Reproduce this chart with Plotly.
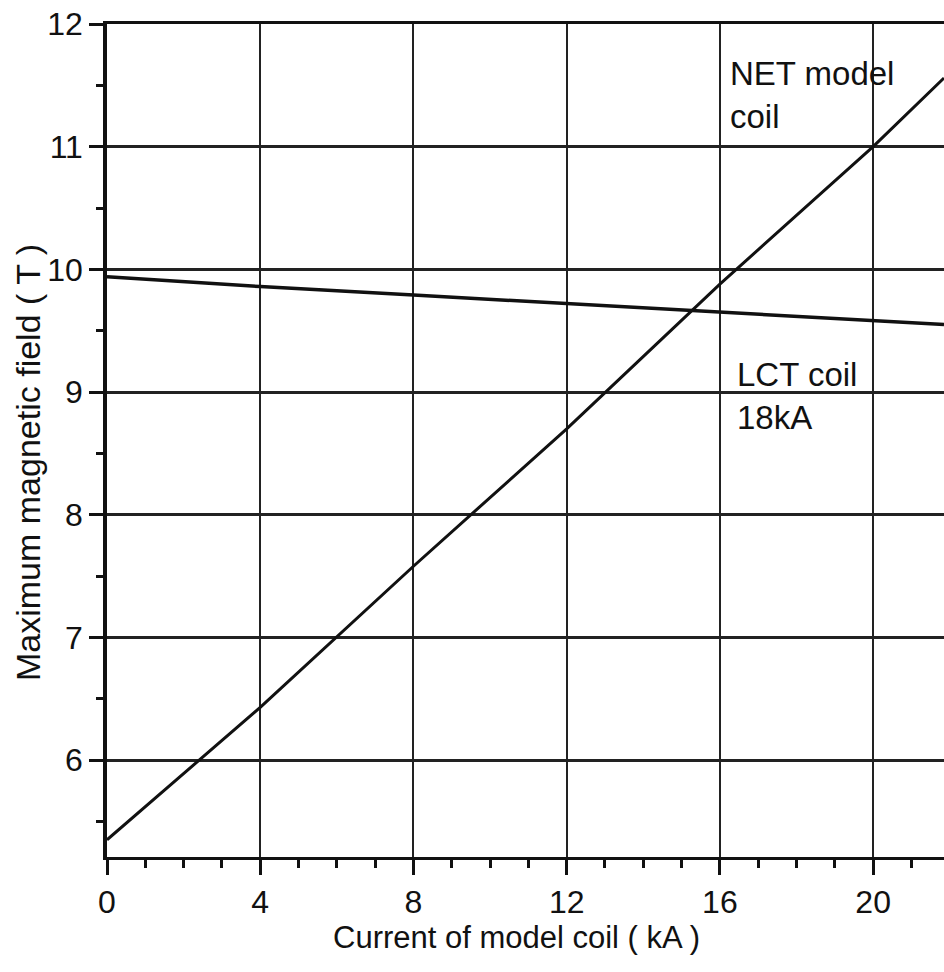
import plotly.graph_objects as go

# Data
current_kA = [0, 4, 8, 12, 16, 20, 21.85]
net_model_coil_T = [5.35, 6.43, 7.58, 8.70, 9.88, 11.0, 11.56]
lct_coil_T = [9.94, 9.86, 9.79, 9.72, 9.65, 9.58, 9.55]

x_ticks = [0, 4, 8, 12, 16, 20]
y_ticks = [6, 7, 8, 9, 10, 11, 12]

FONT = "Liberation Sans, Arial, sans-serif"
INK = "#111111"

fig = go.Figure()
fig.add_trace(go.Scatter(x=current_kA, y=net_model_coil_T, mode="lines",
                         line=dict(color=INK, width=3), name="NET model coil",
                         showlegend=False))
fig.add_trace(go.Scatter(x=current_kA, y=lct_coil_T, mode="lines",
                         line=dict(color=INK, width=3.5), name="LCT coil 18kA",
                         showlegend=False))

fig.update_layout(
    width=944, height=972,
    margin=dict(l=107, r=0, t=24, b=115),
    paper_bgcolor="white", plot_bgcolor="white",
    font=dict(family=FONT, color=INK),
    xaxis=dict(range=[0, 21.85], tickvals=x_ticks, showgrid=True,
               gridcolor="#222222", gridwidth=2, zeroline=False,
               showline=True, linecolor=INK, linewidth=3, mirror=True,
               ticks="outside", ticklen=15, tickwidth=3, tickcolor=INK,
               tickfont=dict(size=32, family=FONT, color=INK),
               ticklabelstandoff=0,
               minor=dict(ticks="outside", dtick=1, tick0=0, ticklen=8,
                          tickwidth=3, tickcolor=INK, showgrid=False)),
    yaxis=dict(range=[5.21, 12], tickvals=y_ticks, showgrid=True,
               gridcolor="#222222", gridwidth=2.5, zeroline=False,
               showline=True, linecolor=INK, linewidth=3.5,
               ticks="outside", ticklen=14, tickwidth=2.5, tickcolor=INK,
               tickfont=dict(size=32, family=FONT, color=INK),
               ticklabelstandoff=0,
               minor=dict(ticks="outside", dtick=0.5, tick0=0, ticklen=7,
                          tickwidth=2.5, tickcolor=INK, showgrid=False)),
    annotations=[
        dict(text="Current of model coil ( kA )", xref="paper", yref="paper",
             x=(516 - 107) / (944 - 107), y=-(937 - 857) / (857 - 24),
             xanchor="center", yanchor="middle", showarrow=False,
             font=dict(size=31, family=FONT, color=INK)),
        dict(text="Maximum magnetic field ( T )", xref="paper", yref="paper",
             x=-(107 - 28) / (944 - 107), y=(857 - 463) / (857 - 24),
             xanchor="center", yanchor="middle", textangle=-90, showarrow=False,
             font=dict(size=34, family=FONT, color=INK)),
        dict(text="NET model<br>coil", x=16.2, y=11.76, xref="x", yref="y",
             xanchor="left", yanchor="top", align="left", showarrow=False,
             font=dict(size=33, family=FONT, color=INK)),
        dict(text="LCT coil<br>18kA", x=16.4, y=9.31, xref="x", yref="y",
             xanchor="left", yanchor="top", align="left", showarrow=False,
             font=dict(size=33, family=FONT, color=INK)),
    ],
)

fig.write_html("out.html")
